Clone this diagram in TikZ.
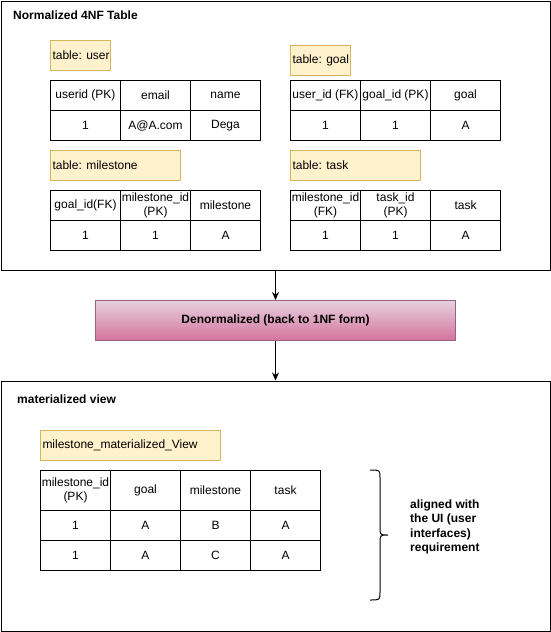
\documentclass[tikz,border=0pt]{standalone}
\usepackage{fontspec}
\setmainfont{Liberation Sans}
\usetikzlibrary{arrows.meta}
\definecolor{lblfill}{HTML}{FFF2CC}
\definecolor{lbldraw}{HTML}{D6B656}
\definecolor{gtop}{HTML}{E6D0DE}
\definecolor{gbot}{HTML}{D5739D}
\definecolor{gdraw}{HTML}{996185}
\begin{document}
\begin{tikzpicture}[x=1pt,y=-1pt,
  every node/.style={font=\fontsize{12}{14}\selectfont},
  frame/.style={draw, line width=1pt, anchor=north west, inner sep=0pt},
  cell/.style={draw, line width=1pt, anchor=north west, minimum width=70pt, minimum height=30pt, inner sep=0pt, align=center},
  hcell/.style={cell, minimum height=40pt},
  labelbox/.style={draw=lbldraw, fill=lblfill, line width=1pt, anchor=north west, minimum height=30pt, inner xsep=2pt, inner ysep=0pt, text width=#1, align=flush left},
  title/.style={anchor=west, inner sep=0pt, font=\fontsize{12}{14}\selectfont\bfseries},
  arrow/.style={draw, line width=1pt, -{Stealth[length=8pt,width=7pt]}}
]
\useasboundingbox (0,0) rectangle (551,632);

% frames
\node[frame, minimum width=549pt, minimum height=269pt] (box1) at (0.5,0.5) {};
\node[frame, minimum width=549pt, minimum height=250pt] (box2) at (0.5,380.5) {};
\node[title] (t1) at (13,15) {Normalized 4NF Table};
\node[title] (t2) at (17,399) {materialized view};

% user table
\node[labelbox=56pt] (luser) at (50,40) {\mbox{table: user}};
\node[cell] (u11) at (50,80) {userid (PK)};
\node[cell] (u12) at (120,80) {email};
\node[cell] (u13) at (190,80) {name};
\node[cell] (u21) at (50,110) {1};
\node[cell] (u22) at (120,110) {A@A.com};
\node[cell] (u23) at (190,110) {Dega};

% goal table
\node[labelbox=56pt] (lgoal) at (290,45) {\mbox{table: goal}};
\node[cell] (g11) at (290,80) {user\_id (FK)};
\node[cell] (g12) at (360,80) {goal\_id (PK)};
\node[cell] (g13) at (430,80) {goal};
\node[cell] (g21) at (290,110) {1};
\node[cell] (g22) at (360,110) {1};
\node[cell] (g23) at (430,110) {A};

% milestone table
\node[labelbox=126pt] (lmile) at (50,150) {\mbox{table: milestone}};
\node[cell] (m11) at (50,190) {goal\_id(FK)};
\node[cell] (m12) at (120,190) {milestone\_id\\(PK)};
\node[cell] (m13) at (190,190) {milestone};
\node[cell] (m21) at (50,220) {1};
\node[cell] (m22) at (120,220) {1};
\node[cell] (m23) at (190,220) {A};

% task table
\node[labelbox=126pt] (ltask) at (290,150) {\mbox{table: task}};
\node[cell] (k11) at (290,190) {milestone\_id\\(FK)};
\node[cell] (k12) at (360,190) {task\_id\\(PK)};
\node[cell] (k13) at (430,190) {task};
\node[cell] (k21) at (290,220) {1};
\node[cell] (k22) at (360,220) {1};
\node[cell] (k23) at (430,220) {A};

% denormalize step
\node[draw=gdraw, top color=gtop, bottom color=gbot, line width=1pt, anchor=north west,
      minimum width=360pt, minimum height=40pt, inner sep=0pt,
      font=\fontsize{12}{14}\selectfont\bfseries] (denorm) at (95,300) {Denormalized (back to 1NF form)};
\draw[arrow] (box1.south) -- (denorm.north);
\draw[arrow] (denorm.south) -- (box2.north);

% materialized view
\node[labelbox=176pt] (lview) at (40,430) {\mbox{milestone\_materialized\_View}};
\node[hcell] (v11) at (40,470) {milestone\_id\\(PK)};
\node[hcell] (v12) at (110,470) {goal};
\node[hcell] (v13) at (180,470) {milestone};
\node[hcell] (v14) at (250,470) {task};
\node[cell] (v21) at (40,510) {1};
\node[cell] (v22) at (110,510) {A};
\node[cell] (v23) at (180,510) {B};
\node[cell] (v24) at (250,510) {A};
\node[cell] (v31) at (40,540) {1};
\node[cell] (v32) at (110,540) {A};
\node[cell] (v33) at (180,540) {C};
\node[cell] (v34) at (250,540) {A};

% brace and note
\draw[line width=1pt] (370,470) .. controls (380,470) .. (380,478) -- (380,527)
  .. controls (380,535) .. (388,535) .. controls (380,535) .. (380,543) -- (380,592)
  .. controls (380,600) .. (370,600);
\node[anchor=west, inner sep=0pt, align=left, font=\fontsize{12}{14.4}\selectfont\bfseries] (note) at (410,527)
  {aligned with\\the UI (user\\interfaces)\\requirement};
\end{tikzpicture}
\end{document}
